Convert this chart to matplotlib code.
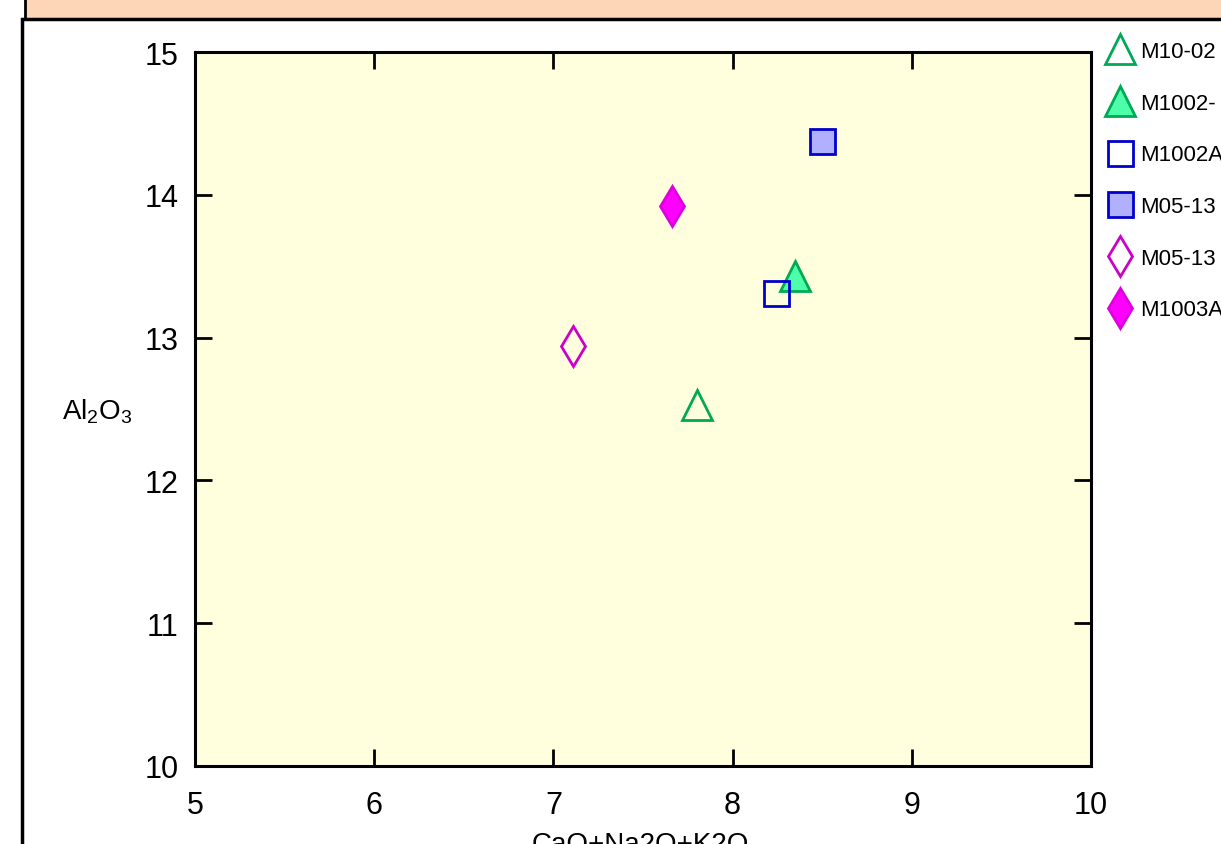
#!/usr/bin/env python3
# Al2O3 vs CaO+Na2O+K2O scatter
import matplotlib
matplotlib.use("Agg")
import matplotlib.pyplot as plt
from matplotlib.patches import Rectangle
from matplotlib import font_manager

# ---------------------------------------------------------------- data
# legend names as far as they are visible (cut by the right edge in the source)
labels = ["M10-02", "M1002-", "M1002A", "M05-13", "M05-13", "M1003A"]
alk = [7.80, 8.35, 8.24, 8.50, 7.11, 7.66]      # CaO+Na2O+K2O
al2o3 = [12.53, 13.43, 13.31, 14.38, 12.94, 13.92]

markers = ["^", "^", "s", "s", "d", "d"]
faces = ["none", "#4dffaa", "none", "#b0b0ff", "none", "#ff00ff"]
edges = ["#00aa55", "#00aa55", "#0000cc", "#0000cc", "#cc00cc", "#dd00dd"]
msizes = [21, 21, 18, 18, 20, 20]

# pick a narrow font for the tick numbers if it's there
names = {f.name for f in font_manager.fontManager.ttflist}
tick_font = "Liberation Sans Narrow" if "Liberation Sans Narrow" in names else "Liberation Sans"
plt.rcParams["font.family"] = ["Liberation Sans", "DejaVu Sans"]
plt.rcParams["mathtext.default"] = "regular"

W, H = 1221, 845
fig = plt.figure(figsize=(W / 100, H / 100), dpi=100)
fig.patch.set_facecolor("white")

# background panels (peach title strip + white frame)
fig.patches.append(Rectangle((25 / W, (H - 20) / H), 1.2, 0.1, transform=fig.transFigure,
                             facecolor="#fcd6b6", edgecolor="black", lw=2, zorder=-5))
fig.patches.append(Rectangle((22 / W, -0.1), 1.2, (H - 20) / H + 0.1, transform=fig.transFigure,
                             facecolor="white", edgecolor="black", lw=2.5, zorder=-4))

ax = fig.add_axes([195 / W, (H - 767) / H, 896 / W, 714 / H])
ax.set_facecolor("#ffffdd")

for x, y, lab, m, fc, ec, ms in zip(alk, al2o3, labels, markers, faces, edges, msizes):
    ax.plot(x, y, linestyle="none", marker=m, markersize=ms, markerfacecolor=fc,
            markeredgecolor=ec, markeredgewidth=2, label=lab, clip_on=False)

ax.set_xlim(5, 10)
ax.set_ylim(10, 15)
ax.set_xticks(range(5, 11))
ax.set_yticks(range(10, 16))
for s in ax.spines.values():
    s.set_linewidth(2.2)
ax.tick_params(direction="in", length=12, width=2, top=True, right=True,
               labelsize=22)
ax.tick_params(axis="x", pad=17)
ax.tick_params(axis="y", pad=12)
for t in ax.get_xticklabels() + ax.get_yticklabels():
    t.set_fontfamily(tick_font)

fig.text(97 / W, 1 - 412 / H, r"Al$_2$O$_3$", fontsize=20, ha="center", va="center",
         fontfamily=tick_font)
fig.text(640 / W, 1 - 832 / H, "CaO+Na2O+K2O", fontsize=20, ha="center", va="top",
         fontfamily=tick_font)

leg = ax.legend(loc="upper left", bbox_to_anchor=(1.0, 1.037), frameon=False,
                fontsize=16, labelspacing=1.38, handletextpad=0.3, handlelength=1.2,
                borderaxespad=0.3, markerscale=1.0)

fig.savefig("out.png", dpi=100)
